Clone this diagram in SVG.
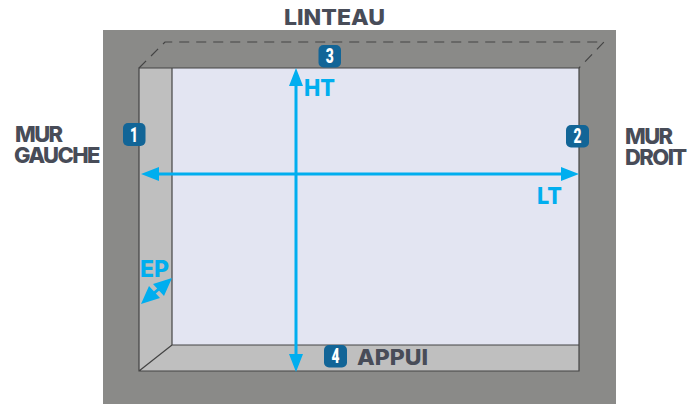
<svg xmlns="http://www.w3.org/2000/svg" width="687" height="404" viewBox="0 0 687 404">
<style>
.lab{font-family:"Inter","Liberation Sans",sans-serif;font-weight:800;fill:#484c58;font-size:22px}
.blue{font-family:"Inter","Liberation Sans",sans-serif;font-weight:800;fill:#00aeef;font-size:23px}
.num{font-family:"Roboto","Liberation Sans",sans-serif;font-weight:900;fill:#fff;font-size:20px;text-anchor:middle}
.badge{fill:#126597}
.arr{stroke:#00aeef;stroke-width:3;fill:none}
.head{fill:#00aeef}
</style>
<rect width="687" height="404" fill="#fff"/>
<g id="wall">
<rect x="103" y="30" width="513" height="374" fill="#8a8a88"/>
<rect x="139" y="68" width="440" height="303" fill="#bfbfbf"/>
<rect x="172" y="68" width="407" height="277" fill="#e3e5f2"/>
<path d="M139 371V68H579V371H139ZM172 68V345H579M139 371L172 345" fill="none" stroke="#444" stroke-width="1.2"/>
<path d="M139 68L165 42H604L579 68" fill="none" stroke="#444" stroke-width="1.2" stroke-dasharray="10 7"/>
</g>
<g id="connectors">
<path class="arr" d="M296 84V356"/>
<path class="head" d="M296 68L303 86H289ZM296 372L289 354H303Z"/>
<path class="arr" d="M158 174H562"/>
<path class="head" d="M141 174L159 167V181ZM579 174L561 167V181Z"/>
<path class="arr" d="M152 295L161 287"/>
<path class="head" d="M141 304L149 286L160 298ZM172 278L164 296L153 284Z"/>
</g>
<g id="node-1"><rect class="badge" x="123" y="123" width="22.500" height="23" rx="5"/><text class="num" x="134" y="141.500" textLength="8" lengthAdjust="spacingAndGlyphs">1</text></g>
<g id="node-2"><rect class="badge" x="566" y="125" width="23" height="22.500" rx="5"/><text class="num" x="577.500" y="143" textLength="8" lengthAdjust="spacingAndGlyphs">2</text></g>
<g id="node-3"><rect class="badge" x="318.500" y="45" width="22.500" height="22.500" rx="5"/><text class="num" x="329.700" y="63" textLength="8" lengthAdjust="spacingAndGlyphs">3</text></g>
<g id="node-4"><rect class="badge" x="324" y="345" width="23" height="22.500" rx="5"/><text class="num" x="335.500" y="363" textLength="8" lengthAdjust="spacingAndGlyphs">4</text></g>
<g id="labels">
<text class="lab" x="284" y="25" textLength="101" lengthAdjust="spacingAndGlyphs">LINTEAU</text>
<text class="lab" x="15" y="142" letter-spacing="-1.6"><tspan x="15" y="142">MUR</tspan><tspan x="14" y="163">GAUCHE</tspan></text>
<text class="lab" x="625" y="144" letter-spacing="-1.6"><tspan x="625" y="144">MUR</tspan><tspan x="625" y="165">DROIT</tspan></text>
<text class="lab" x="357" y="365" textLength="71" lengthAdjust="spacingAndGlyphs">APPUI</text>
<text class="blue" x="304" y="96" textLength="31" lengthAdjust="spacingAndGlyphs">HT</text>
<text class="blue" x="537" y="204" textLength="25" lengthAdjust="spacingAndGlyphs">LT</text>
<text class="blue" x="140" y="277" textLength="29" lengthAdjust="spacingAndGlyphs">EP</text>
</g>
</svg>
